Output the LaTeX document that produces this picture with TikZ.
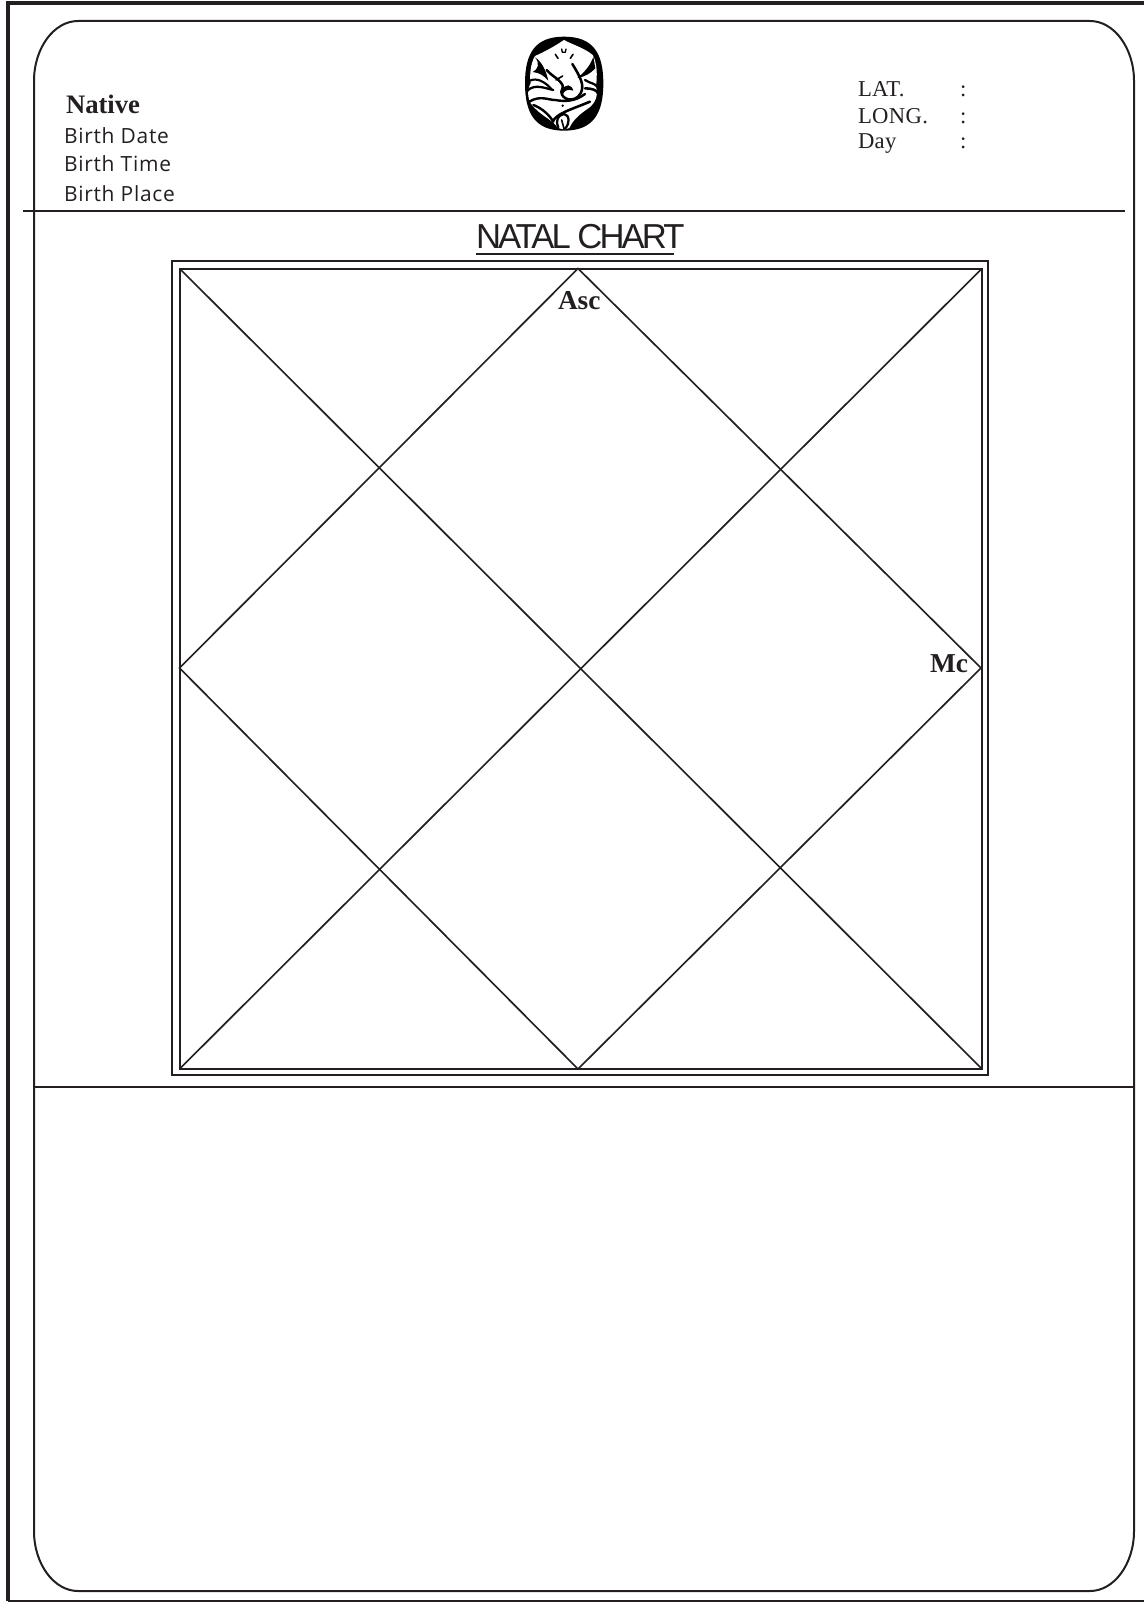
\documentclass[tikz,border=0pt]{standalone}
\usepackage{fontspec}
\setmainfont{Liberation Serif}
\newfontfamily\titlefont[LetterSpace=-8.5]{Liberation Sans}
\newfontfamily\birthfont[LetterSpace=3.5]{Open Sans}
\newfontfamily\latfont[LetterSpace=1.5]{Liberation Serif}
\definecolor{ink}{HTML}{231F20}
\tikzset{
  frameline/.style={draw=ink,line width=3.2pt},
  boxline/.style={draw=ink,line width=1.5pt},
  chartline/.style={draw=ink,line width=1.25pt},
  lab/.style={inner sep=0,outer sep=0,anchor=base west,text=ink},
  natlab/.style={lab,font=\bfseries\fontsize{20pt}{20pt}\selectfont},
  birthlab/.style={lab,font=\birthfont\fontsize{15.7pt}{18pt}\selectfont},
  latlab/.style={lab,font=\latfont\fontsize{17pt}{20pt}\selectfont},
  signlab/.style={lab,font=\bfseries\fontsize{20.5pt}{22pt}\selectfont},
  gk/.style={draw=black,line cap=round,line join=round}
}
\begin{document}
\begin{tikzpicture}[x=0.75pt,y=-0.75pt]
\useasboundingbox (0,0) rectangle (1144,1602);
% outer frame
\coordinate (fa) at (1144,2.8);
\coordinate (fb) at (8.2,2.8);
\coordinate (fc) at (8.2,1601);
\coordinate (fd) at (1144,1601);
\draw[frameline] (fa) -- (fb) -- (fc);
\draw[draw=ink,line width=1pt] (fc) -- (fd);
% rounded panel
\draw[boxline] (78,21) -- (1090,21) .. controls (1114,21) and (1134,48) .. (1134,81)
  -- (1134,1531) .. controls (1134,1564) and (1114,1591) .. (1090,1591)
  -- (78,1591) .. controls (54,1591) and (34,1564) .. (34,1531)
  -- (34,81) .. controls (34,48) and (54,21) .. (78,21) -- cycle;
% dividers
\coordinate (d1a) at (23,211); \coordinate (d1b) at (1125,211);
\coordinate (d2a) at (34,1087); \coordinate (d2b) at (1134,1087);
\draw[boxline] (d1a) -- (d1b);
\draw[boxline] (d2a) -- (d2b);
% chart
\draw[chartline,line width=1.5pt] (172,260.5) rectangle (988,1075);
\draw[chartline,line width=1.5pt] (179.5,268.5) rectangle (982,1069);
\coordinate (tl) at (179.5,268.5); \coordinate (tr) at (982,268.5);
\coordinate (bl) at (179.5,1069); \coordinate (br) at (982,1069);
\coordinate (mt) at (578,268.5); \coordinate (mb) at (578,1069);
\coordinate (ml) at (179.5,668); \coordinate (mr) at (981,668);
\draw[chartline] (tl) -- (br);
\draw[chartline] (tr) -- (bl);
\draw[chartline] (mt) -- (mr) -- (mb) -- (ml) -- cycle;
% texts
\node[natlab] (native) at (66,113.5) {Native};
\node[birthlab] (bdate) at (64,143.5) {Birth Date};
\node[birthlab] (btime) at (64,171.5) {Birth Time};
\node[birthlab] (bplace) at (64,201) {Birth Place};
\node[latlab] (lat) at (858,97) {LAT.};
\node[latlab] (long) at (858,123) {LONG.};
\node[latlab] (day) at (858,148) {Day};
\node[latlab] (c1) at (960,97) {:};
\node[latlab] (c2) at (960,123) {:};
\node[latlab] (c3) at (960,148) {:};
\node[lab,font=\titlefont\fontsize{26pt}{28pt}\selectfont] (title) at (476,248) {NATAL CHART};
\coordinate (ua) at (476,253.7); \coordinate (ub) at (674,253.7);
\draw[draw=ink,line width=1.5pt] (ua) -- (ub);
\node[signlab] (asc) at (558,309) {Asc};
\node[signlab] (mc) at (930,672) {Mc};
% Ganesha emblem
\begin{scope}[shift={(490,20)},x=0.25pt,y=-0.25pt]
\fill[black] (222,50) .. controls (310,50) and (340,100) .. (340,190)
  .. controls (340,280) and (310,332) .. (222,332)
  .. controls (135,332) and (105,280) .. (105,190)
  .. controls (105,100) and (135,50) .. (222,50) -- cycle;
\fill[white] (135,108) .. controls (165,95) and (195,78) .. (222,60)
  .. controls (250,75) and (285,85) .. (308,105)
  .. controls (322,130) and (322,165) .. (318,200)
  .. controls (326,225) and (316,250) .. (295,265)
  .. controls (270,282) and (250,298) .. (238,324)
  .. controls (225,330) and (212,328) .. (202,322)
  .. controls (190,302) and (162,292) .. (135,265)
  .. controls (114,248) and (108,215) .. (122,190)
  .. controls (118,165) and (122,130) .. (135,108) -- cycle;
% tilak and eyes
\draw[gk,line width=1pt] (215,87) -- (217,97) -- (226,97) -- (228,87);
\draw[gk,line width=1.2pt] (196,103) -- (204,115);
\draw[gk,line width=1.2pt] (249,103) -- (241,115);
% ears
\fill[black] (135,112) .. controls (155,125) and (168,150) .. (175,182)
  .. controls (162,168) and (150,158) .. (128,156)
  .. controls (145,148) and (150,130) .. (135,112) -- cycle;
\fill[black] (310,110) .. controls (302,135) and (285,155) .. (262,174)
  .. controls (285,170) and (302,160) .. (316,145) -- cycle;
\draw[gk,line width=1.6pt] (120,182) .. controls (140,172) and (165,185) .. (185,208);
% trunk
\draw[gk,line width=1.9pt] (170,150) .. controls (190,172) and (200,172) .. (212,187)
  .. controls (222,197) and (218,205) .. (214,215)
  .. controls (214,240) and (255,250) .. (272,220)
  .. controls (285,195) and (270,170) .. (247,132);
\fill[black] (235,196) .. controls (220,198) and (212,210) .. (218,224)
  .. controls (224,209) and (235,207) .. (250,212)
  .. controls (247,202) and (241,196) .. (235,196) -- cycle;
\draw[gk,line width=1.2pt] (198,180) -- (218,168);
% arm lines
\draw[gk,line width=1.7pt] (112,212) .. controls (135,190) and (165,205) .. (190,210);
\draw[gk,line width=1.7pt] (285,180) .. controls (300,190) and (315,190) .. (322,200);
\draw[gk,line width=1.9pt] (285,205) .. controls (305,205) and (322,210) .. (325,222);
% belly and legs
\draw[gk,line width=1.8pt] (118,245) .. controls (150,225) and (175,240) .. (195,240)
  .. controls (225,245) and (255,245) .. (285,222);
\draw[gk,line width=1.8pt] (130,255) .. controls (150,262) and (175,280) .. (190,305);
\draw[gk,line width=1.9pt] (188,305) .. controls (200,280) and (240,270) .. (300,245);
\fill[black] (218,257) circle (4);
\draw[gk,line width=1.7pt] (205,322) .. controls (195,300) and (205,285) .. (222,282)
  .. controls (240,285) and (240,310) .. (225,326);
\draw[gk,line width=1.2pt] (215,300) -- (222,326);
\end{scope}
\end{tikzpicture}
\end{document}
